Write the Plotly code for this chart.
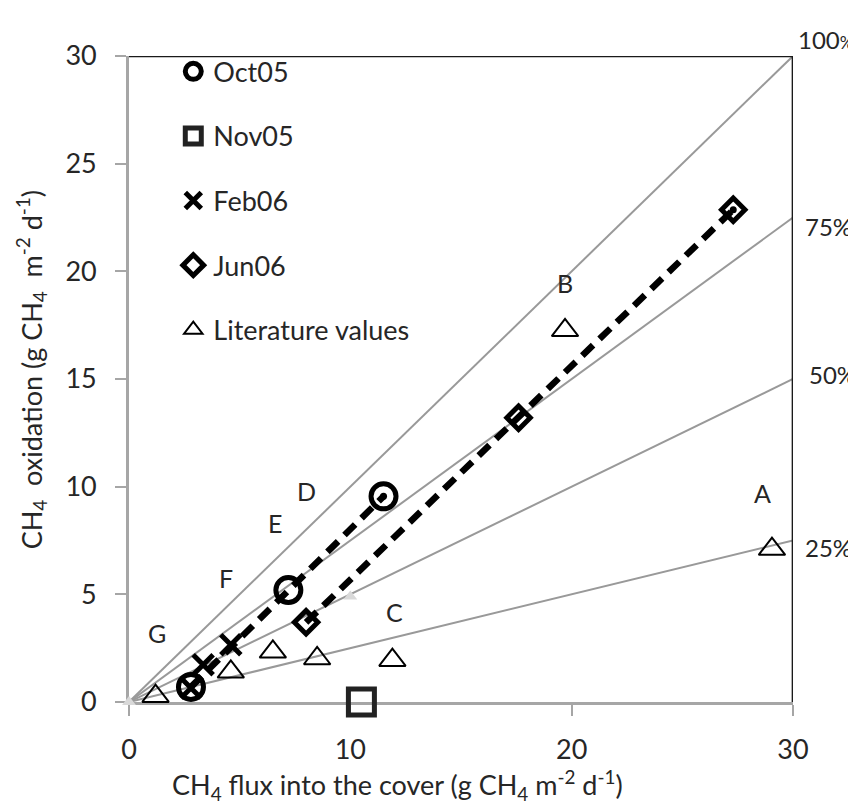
import plotly.graph_objects as go

# ---------------- data ----------------
oct05_x = [2.8, 7.2, 11.5]
oct05_y = [0.7, 5.2, 9.55]
nov05_x = [10.5]
nov05_y = [0.0]
feb06_x = [2.8, 3.35, 4.6]
feb06_y = [0.65, 1.73, 2.66]
jun06_x = [8.0, 17.6, 27.3]
jun06_y = [3.7, 13.2, 22.86]
lit_x = [29.05, 19.7, 11.9, 8.5, 6.5, 4.6, 1.2]
lit_y = [7.1, 17.26, 1.94, 2.02, 2.33, 1.4, 0.27]
lit_labels = ["A", "B", "C", "D", "E", "F", "G"]
lit_label_x = [28.6, 19.7, 12.0, 8.0, 6.6, 4.4, 1.25]
lit_label_y = [9.7, 19.45, 4.2, 9.8, 8.3, 5.75, 3.2]
pct_fracs = [1.0, 0.75, 0.5, 0.25]
pct_labels = ["100%", "75%", "50%", "25%"]
aux_x = [0, 10]
aux_y = [0, 4.9]
x_ticks = [0, 10, 20, 30]
y_ticks = [0, 5, 10, 15, 20, 25, 30]
xmax = 30

FONT = "Lato"
TXT = "#262626"
GRAY = "#999999"
AXG = "#a6a6a6"

fig = go.Figure()

# percentage reference lines
for f in pct_fracs:
    fig.add_trace(go.Scatter(x=[0, xmax], y=[0, xmax * f], mode="lines",
                             line=dict(color=GRAY, width=2),
                             showlegend=False, hoverinfo="skip"))
fig.add_trace(go.Scatter(x=aux_x, y=aux_y, mode="markers", cliponaxis=False,
                         marker=dict(symbol="triangle-up", size=12, color="#d9d9d9"),
                         showlegend=False, hoverinfo="skip"))

# dashed trend lines
for xs, ys in [(oct05_x, oct05_y), (jun06_x, jun06_y)]:
    fig.add_trace(go.Scatter(x=xs, y=ys, mode="lines",
                             line=dict(color="black", width=6.5, dash="15px,9px"),
                             showlegend=False, hoverinfo="skip"))
    fig.add_trace(go.Scatter(x=[xs[-1]], y=[ys[-1]], mode="markers",
                             marker=dict(symbol="circle", size=7, color="black"),
                             showlegend=False, hoverinfo="skip"))

fig.add_trace(go.Scatter(x=oct05_x, y=oct05_y, mode="markers", name="Oct05",
                         legendgroup="a",
                         marker=dict(symbol="circle-open", size=25, color="black",
                                     line=dict(width=5, color="black"))))
fig.add_trace(go.Scatter(x=nov05_x, y=nov05_y, mode="markers", name="Nov05",
                         legendgroup="b", cliponaxis=False,
                         marker=dict(symbol="square-open", size=26, color="#222",
                                     line=dict(width=5, color="#222"))))
fig.add_trace(go.Scatter(x=feb06_x, y=feb06_y, mode="markers", name="Feb06",
                         legendgroup="c",
                         marker=dict(symbol="x-thin-open", size=20, color="black",
                                     line=dict(width=5, color="black"))))
fig.add_trace(go.Scatter(x=jun06_x, y=jun06_y, mode="markers", name="Jun06",
                         legendgroup="d",
                         marker=dict(symbol="diamond-open", size=18, color="black",
                                     line=dict(width=5, color="black"))))
fig.add_trace(go.Scatter(x=lit_x, y=lit_y, mode="markers", name="Literature values",
                         legendgroup="e", cliponaxis=False,
                         marker=dict(symbol="triangle-up-open", size=23, color="black",
                                     line=dict(width=2, color="black"))))

ann = []
for t, lx, ly in zip(lit_labels, lit_label_x, lit_label_y):
    ann.append(dict(x=lx, y=ly, xref="x", yref="y", text=t, showarrow=False,
                    font=dict(family=FONT, size=25, color=TXT)))

# right-hand percentage labels (pixel positions converted to paper fractions)
pct_pos_px = [(789, 32), (796, 218), (800, 366), (796, 539)]
for lab, (px, py) in zip(pct_labels, pct_pos_px):
    txt = lab
    if lab == "100%":
        txt = "100<span style='font-size:17px'>%</span>"
    ann.append(dict(x=(px - 121) / 664.0, y=(694 - py) / 646.0, xref="paper", yref="paper",
                    text=txt, showarrow=False, xanchor="left", yanchor="middle",
                    borderpad=0, font=dict(family=FONT, size=24, color=TXT)))

ann.append(dict(x=0.404, y=-0.1285, xref="paper", yref="paper",
                text="CH<sub>4</sub> flux into the cover (g CH<sub>4</sub> m<sup>-2</sup> d<sup>-1</sup>)",
                showarrow=False, xanchor="center", yanchor="middle",
                font=dict(family=FONT, size=27, color=TXT)))
ann.append(dict(x=-0.147, y=0.514, xref="paper", yref="paper", textangle=-90,
                text="CH<sub>4</sub>\u00a0 oxidation (g CH<sub>4</sub>\u00a0 m<sup>-2</sup> d<sup>-1</sup>)",
                showarrow=False, xanchor="center", yanchor="middle",
                font=dict(family=FONT, size=27, color=TXT)))

shapes = [
    dict(type="line", xref="x", yref="y", x0=0, x1=xmax, y0=30, y1=30,
         line=dict(color="#1a1a1a", width=2.7)),
    dict(type="line", xref="x", yref="y", x0=xmax, x1=xmax, y0=0, y1=30,
         line=dict(color="#1a1a1a", width=2.7)),
]

fig.update_layout(
    width=856, height=806,
    margin=dict(l=121, r=71, t=48, b=112),
    paper_bgcolor="white", plot_bgcolor="white",
    font=dict(family=FONT, color=TXT),
    annotations=ann, shapes=shapes,
    legend=dict(x=0.0667, y=1.0135, xanchor="left", yanchor="top",
                bgcolor="rgba(0,0,0,0)", tracegroupgap=26.5,
                font=dict(family=FONT, size=27, color=TXT)),
    xaxis=dict(range=[0, xmax], tickvals=x_ticks, ticks="outside", ticklen=11,
               tickwidth=2, tickcolor=AXG, showline=True, linecolor=AXG,
               linewidth=2.7, showgrid=False, zeroline=False, layer="below traces",
               tickfont=dict(family=FONT, size=27, color=TXT), ticklabelstandoff=11),
    yaxis=dict(range=[0, 30], tickvals=y_ticks, ticks="outside", ticklen=11,
               tickwidth=2, tickcolor=AXG, showline=True, linecolor=AXG,
               linewidth=2.7, showgrid=False, zeroline=False, layer="below traces",
               tickfont=dict(family=FONT, size=27, color=TXT), ticklabelstandoff=13),
)

fig.write_html("out.html")
